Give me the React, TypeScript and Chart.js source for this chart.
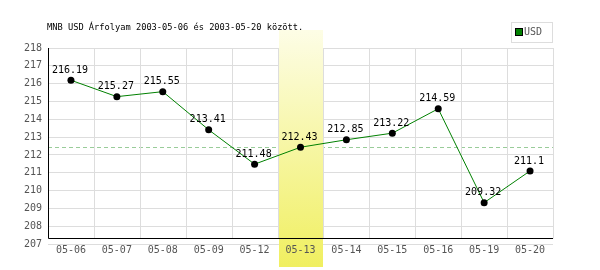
import React, { useEffect, useRef } from "react";
import { Chart, registerables } from "chart.js";

Chart.register(...registerables);

const categories = ["05-06", "05-07", "05-08", "05-09", "05-12", "05-13", "05-14", "05-15", "05-16", "05-19", "05-20"];
const usdValues = [216.19, 215.27, 215.55, 213.41, 211.48, 212.43, 212.85, 213.22, 214.59, 209.32, 211.1];
const valueLabels = ["216.19", "215.27", "215.55", "213.41", "211.48", "212.43", "212.85", "213.22", "214.59", "209.32", "211.1"];
const yMin = 207;
const yMax = 218;
const highlightIndex = 5;
const referenceValue = 212.43;
const titleText = "MNB USD Árfolyam 2003-05-06 és 2003-05-20 között.";
const seriesName = "USD";

const MONO = "'DejaVu Sans Mono', 'Liberation Mono', monospace";

const decorPlugin = {
  id: "decor",
  beforeDatasetsDraw(chart: any) {
    const { ctx, chartArea } = chart;
    const x = chart.scales.x;
    const y = chart.scales.y;
    const n = categories.length;
    const w = (chartArea.right - chartArea.left) / n;
    const axisY = Math.round(chartArea.bottom - 6) + 0.5;
    ctx.save();
    const ry = Math.round(y.getPixelForValue(referenceValue)) + 0.5;
    ctx.strokeStyle = "#99cc99";
    ctx.lineWidth = 1;
    ctx.setLineDash([4, 3]);
    ctx.beginPath();
    ctx.moveTo(chartArea.left, ry);
    ctx.lineTo(chartArea.right, ry);
    ctx.stroke();
    ctx.setLineDash([]);
    ctx.strokeStyle = "#dddddd";
    for (let i = 1; i <= n; i++) {
      const gx = Math.round(chartArea.left + i * w) + 0.5;
      ctx.beginPath();
      ctx.moveTo(gx, chartArea.top);
      ctx.lineTo(gx, axisY);
      ctx.stroke();
    }
    const cx = x.getPixelForValue(highlightIndex);
    const bx0 = Math.round(cx - w / 2) + 1;
    const bx1 = Math.round(cx + w / 2);
    const top = 30;
    const bottom = 267;
    const g = ctx.createLinearGradient(0, top, 0, bottom);
    g.addColorStop(0, "#fdfde6");
    g.addColorStop(1, "#f0ef60");
    ctx.fillStyle = g;
    ctx.fillRect(bx0, top, bx1 - bx0, bottom - top);
    ctx.strokeStyle = "#000000";
    ctx.beginPath();
    ctx.moveTo(Math.round(chartArea.left) + 0.5, chartArea.top);
    ctx.lineTo(Math.round(chartArea.left) + 0.5, axisY);
    ctx.lineTo(chartArea.right, axisY);
    ctx.stroke();
    ctx.restore();
  },
  afterDatasetsDraw(chart: any) {
    const { ctx } = chart;
    const meta = chart.getDatasetMeta(0);
    ctx.save();
    ctx.font = `10px ${MONO}`;
    ctx.fillStyle = "#000000";
    ctx.textAlign = "center";
    ctx.textBaseline = "middle";
    meta.data.forEach((pt: any, i: number) => {
      ctx.fillText(valueLabels[i], pt.x - 1, pt.y - 10);
    });
    ctx.restore();
  },
  afterDraw(chart: any) {
    const { ctx } = chart;
    ctx.save();
    ctx.font = `8.7px ${MONO}`;
    ctx.fillStyle = "#000000";
    ctx.textAlign = "left";
    ctx.textBaseline = "middle";
    ctx.fillText(titleText, 47, 27.5);
    ctx.strokeStyle = "#dddddd";
    ctx.lineWidth = 1;
    ctx.strokeRect(511.5, 22.5, 41, 20);
    ctx.fillStyle = "#008000";
    ctx.fillRect(516, 29, 6, 6);
    ctx.strokeStyle = "#000000";
    ctx.strokeRect(515.5, 28.5, 7, 7);
    ctx.fillStyle = "#555555";
    ctx.font = `10px ${MONO}`;
    ctx.fillText(seriesName, 524, 32.5);
    ctx.restore();
  },
};

export default function App() {
  const canvasRef = useRef<HTMLCanvasElement | null>(null);

  useEffect(() => {
    document.body.style.margin = "0";
    const canvas = canvasRef.current;
    if (!canvas) return;
    const chart = new Chart(canvas, {
      type: "line",
      data: {
        labels: categories,
        datasets: [
          {
            label: seriesName,
            data: usdValues,
            borderColor: "#008000",
            borderWidth: 1,
            tension: 0,
            pointRadius: 3.5,
            pointBackgroundColor: "#000000",
            pointBorderWidth: 0,
            pointBorderColor: "#000000",
            fill: false,
          },
        ],
      },
      options: {
        animation: false,
        responsive: false,
        maintainAspectRatio: false,
        devicePixelRatio: 1,
        layout: { padding: { left: 0, top: 48, right: 47, bottom: 0 } },
        plugins: {
          legend: { display: false },
          title: { display: false },
          tooltip: { enabled: false },
        },
        scales: {
          x: {
            type: "category",
            offset: true,
            grid: { display: false },
            border: { display: false },
            ticks: {
              z: 1,
              color: "#555555",
              font: { family: MONO, size: 10 },
              padding: -8,
              maxRotation: 0,
              autoSkip: false,
            },
            afterFit(scale: any) {
              scale.height = 26;
            },
          },
          y: {
            min: yMin,
            max: yMax,
            grid: { color: "#dddddd", lineWidth: 1, drawTicks: false },
            border: { display: false },
            ticks: {
              stepSize: 1,
              color: "#555555",
              font: { family: MONO, size: 10 },
              padding: 6,
            },
            afterFit(scale: any) {
              scale.width = 48;
            },
          },
        },
      },
      plugins: [decorPlugin],
    });
    return () => chart.destroy();
  }, []);

  return (
    <div style={{ width: 600, height: 270, background: "#ffffff" }}>
      <canvas ref={canvasRef} width={600} height={270} style={{ display: "block" }} />
    </div>
  );
}
